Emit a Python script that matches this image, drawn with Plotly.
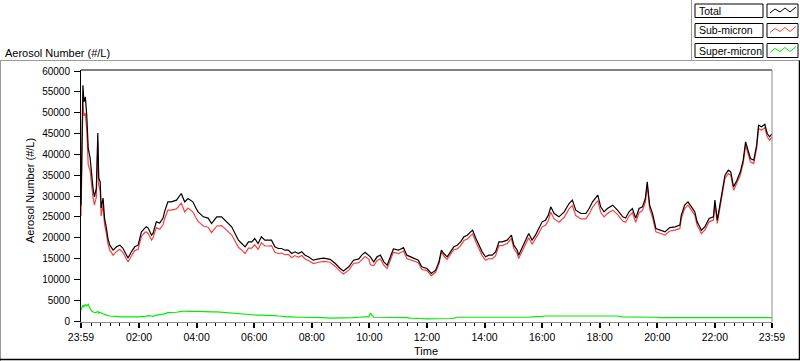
import plotly.graph_objects as go

# minutes since 23:59 (start of record)
t_min = [0, 2, 4, 6, 9, 12, 15, 19, 22, 25, 28, 32, 35, 37, 40, 42, 46, 49, 53, 56, 60, 67, 74, 81, 87, 94, 98, 105, 112, 119,
         126, 133, 136, 140, 147, 150, 157, 164, 171, 174, 181, 188, 199, 209, 216, 223, 233, 240, 244, 255, 265, 272, 283, 293,
         300, 307, 314, 321, 328, 335, 342, 349, 356, 362, 369, 376, 383, 390, 397, 404, 411, 418, 425, 432, 439, 446, 453, 460,
         467, 474, 484, 495, 506, 519, 530, 540, 547, 558, 568, 579, 585, 592, 600, 603, 610, 617, 624, 631, 638, 644, 651, 662,
         672, 679, 686, 693, 703, 710, 721, 730, 739, 746, 751, 756, 763, 770, 777, 784, 791, 798, 805, 812, 816, 823, 829, 836,
         843, 850, 857, 864, 871, 878, 888, 897, 902, 909, 912, 919, 926, 933, 940, 947, 954, 961, 968, 974, 979, 986, 996, 1007,
         1017, 1024, 1031, 1042, 1052, 1059, 1066, 1077, 1083, 1090, 1097, 1108, 1118, 1129, 1135, 1142, 1149, 1156, 1163, 1170,
         1176, 1180, 1185, 1191, 1198, 1208, 1217, 1227, 1238, 1248, 1251, 1258, 1265, 1272, 1279, 1284, 1293, 1300, 1309, 1318,
         1321, 1326, 1331, 1337, 1342, 1349, 1354, 1360, 1367, 1374, 1380, 1385, 1390, 1395, 1402, 1408, 1412, 1418, 1425, 1430,
         1435, 1440]

total = [27800, 45000, 56600, 52600, 53800, 49400, 41500, 39100, 35000, 31900, 29800, 31900, 45100, 34300, 33400, 27100, 29500,
         24700, 22300, 19900, 18200, 17000, 17800, 18200, 17500, 15800, 15100, 16600, 17800, 18200, 21400, 22300, 22600, 22300,
         20600, 21000, 23800, 23500, 24700, 26200, 28600, 28600, 29000, 30600, 28600, 29400, 28600, 27000, 26200, 25000, 24700,
         23400, 25000, 25000, 24200, 23400, 22600, 21000, 19400, 18600, 17800, 19000, 19000, 19800, 18600, 20200, 19400, 19400,
         19400, 17800, 17400, 17400, 17000, 17000, 16200, 16600, 16200, 16600, 15800, 15400, 14600, 14900, 15100, 14800, 13800,
         12600, 12000, 13000, 14600, 14900, 15800, 16500, 15800, 15400, 14200, 15400, 15800, 14200, 13400, 15000, 17300, 17000,
         17600, 15800, 15400, 15000, 14600, 13000, 12600, 11400, 12200, 14200, 17000, 16200, 15400, 16600, 17800, 18200, 19000,
         20200, 20600, 21400, 21800, 19800, 18200, 16600, 15400, 15800, 15800, 16600, 19000, 19000, 19400, 20600, 18200, 17000,
         15800, 17400, 19000, 21000, 19400, 20600, 22200, 23800, 24200, 25400, 27400, 25800, 25000, 26200, 28200, 29000, 26600,
         25800, 25800, 27000, 28600, 30200, 27400, 26200, 27000, 27800, 26600, 25000, 24700, 26200, 27000, 24700, 27000, 27400,
         29400, 33400, 27800, 25800, 22200, 21800, 21400, 22400, 22600, 23000, 25400, 27800, 28600, 27400, 26200, 23800, 21800,
         22600, 24600, 25000, 29000, 24200, 27400, 32200, 35000, 36200, 35800, 32200, 33800, 35800, 38600, 43000, 41000, 39000,
         38600, 42200, 47000, 46600, 47200, 45000, 44200, 44900]

sub_micron = [25200, 41800, 52800, 49200, 49900, 45800, 37500, 36100, 32600, 29700, 27800, 29800, 42800, 32400, 31300, 25200,
              27800, 23200, 20900, 18600, 17000, 15800, 16700, 17200, 16500, 14900, 14200, 15600, 16900, 17200, 20300, 21300,
              21400, 21000, 19400, 19900, 22400, 22000, 23100, 24500, 26600, 26600, 26900, 28300, 26200, 27100, 26200, 24700,
              23900, 22800, 22500, 21200, 22800, 22900, 22200, 21400, 20700, 19200, 17700, 17000, 16200, 17500, 17500, 18300,
              17200, 18800, 18000, 18000, 18100, 16500, 16200, 16300, 15900, 16000, 15200, 15700, 15300, 15700, 14900, 14500,
              13800, 14100, 14300, 14100, 13100, 11900, 11300, 12200, 13800, 14000, 14800, 15500, 14800, 13500, 13300, 14500,
              14900, 13400, 12600, 14200, 16500, 16200, 16800, 15000, 14700, 14300, 14000, 12400, 12100, 10900, 11700, 13700,
              16500, 15600, 14800, 16000, 17100, 17300, 18100, 19300, 19700, 20500, 20900, 18900, 17300, 15700, 14600, 15000,
              14900, 15700, 18100, 18100, 18600, 19800, 17400, 16200, 15000, 16600, 18100, 20000, 18400, 19600, 21100, 22600,
              23000, 24100, 26100, 24500, 23700, 24900, 26900, 27700, 25300, 24500, 24500, 25700, 27300, 28900, 26100, 25000,
              25800, 26600, 25600, 24000, 23700, 25200, 26000, 23700, 26000, 26500, 28500, 32500, 26900, 24900, 21400, 21000,
              20600, 21600, 21800, 22200, 24600, 27000, 27800, 26600, 25400, 23000, 21000, 21800, 23800, 24200, 28200, 23400,
              26600, 31400, 34200, 35400, 35000, 31400, 33000, 35000, 37800, 42200, 40200, 38200, 37800, 41400, 46200, 45800,
              46400, 44200, 43400, 44100]

super_micron = [2600, 3200, 3800, 3400, 3900, 3600, 4000, 3000, 2400, 2200, 2000, 2100, 2300, 1900, 2100, 1900, 1700, 1500, 1400,
                1300, 1200, 1200, 1100, 1000, 1000, 900, 900, 1000, 900, 1000, 1100, 1000, 1200, 1300, 1200, 1100, 1400, 1500,
                1600, 1700, 2000, 2000, 2100, 2300, 2400, 2300, 2400, 2300, 2300, 2200, 2200, 2200, 2200, 2100, 2000, 2000, 1900,
                1800, 1700, 1600, 1600, 1500, 1500, 1500, 1400, 1400, 1400, 1400, 1300, 1300, 1200, 1100, 1100, 1000, 1000, 900,
                900, 900, 900, 900, 800, 800, 800, 700, 700, 700, 700, 800, 800, 900, 1000, 1000, 1000, 1900, 900, 900, 900, 800,
                800, 800, 800, 800, 800, 800, 700, 700, 600, 600, 500, 500, 500, 500, 500, 600, 600, 600, 700, 900, 900, 900, 900,
                900, 900, 900, 900, 900, 900, 800, 800, 900, 900, 900, 900, 800, 800, 800, 800, 800, 800, 900, 1000, 1000, 1000,
                1100, 1200, 1200, 1300, 1300, 1300, 1300, 1300, 1300, 1300, 1300, 1300, 1300, 1300, 1300, 1300, 1300, 1200, 1200,
                1200, 1000, 1000, 1000, 1000, 1000, 1000, 1000, 900, 900, 900, 900, 900, 800, 800, 800, 800, 800, 800, 800, 800,
                800, 800, 800, 800, 800, 800, 800, 800, 800, 800, 800, 800, 800, 800, 800, 800, 800, 800, 800, 800, 800, 800, 800,
                800, 800, 800, 800, 800, 800, 800, 800]

tick_minutes = [0, 121, 241, 361, 481, 601, 721, 841, 961, 1081, 1201, 1321, 1440]
tick_labels = ["23:59", "02:00", "04:00", "06:00", "08:00", "10:00", "12:00", "14:00", "16:00", "18:00", "20:00", "22:00", "23:59"]
minor_tick_minutes = list(range(1, 1440, 20))
y_ticks = [0, 5000, 10000, 15000, 20000, 25000, 30000, 35000, 40000, 45000, 50000, 55000, 60000]
y_tick_labels = ["0", "5000", "10000", "15000", "20000", "25000", "30000", "35000", "40000", "45000", "50000", "55000", "60000"]
series_names = ["Total", "Sub-micron", "Super-micron"]
series_colors = ["#000000", "#FF3C3C", "#00EE00"]

W, H = 800, 361
L, R, T, B = 81, 772, 70, 322


def px(x):
    return (x - L) / (R - L)


def py(y):
    return (B - y) / (B - T)


FONT = "Liberation Sans"

fig = go.Figure()
fig.add_trace(go.Scatter(x=t_min, y=super_micron, mode="lines", line=dict(color=series_colors[2], width=1.2),
                         name=series_names[2], showlegend=False))
fig.add_trace(go.Scatter(x=t_min, y=sub_micron, mode="lines", line=dict(color=series_colors[1], width=1.2),
                         name=series_names[1], showlegend=False))
fig.add_trace(go.Scatter(x=t_min, y=total, mode="lines", line=dict(color=series_colors[0], width=1.2),
                         name=series_names[0], showlegend=False))

shapes = []
# plot frame: top (black), right (gray)
shapes.append(dict(type="line", xref="paper", yref="paper", x0=0, x1=1, y0=1, y1=1, line=dict(color="black", width=1)))
shapes.append(dict(type="line", xref="paper", yref="paper", x0=1, x1=1, y0=0, y1=1, line=dict(color="#8C8C8C", width=1)))
# outer panel (sunken border)
shapes.append(dict(type="line", xref="paper", yref="paper", x0=px(0), x1=px(800), y0=py(60.5), y1=py(60.5),
                   line=dict(color="#9A9A9A", width=1)))
shapes.append(dict(type="line", xref="paper", yref="paper", x0=px(0.5), x1=px(0.5), y0=py(60.5), y1=py(361),
                   line=dict(color="#9A9A9A", width=1)))
shapes.append(dict(type="line", xref="paper", yref="paper", x0=px(0), x1=px(800), y0=py(359.5), y1=py(359.5),
                   line=dict(color="black", width=1.5)))
shapes.append(dict(type="line", xref="paper", yref="paper", x0=px(799.5), x1=px(799.5), y0=py(60.5), y1=py(360),
                   line=dict(color="black", width=1.5)))
# legend area border
shapes.append(dict(type="line", xref="paper", yref="paper", x0=px(691.5), x1=px(691.5), y0=py(0), y1=py(60.5),
                   line=dict(color="#9A9A9A", width=1)))

annotations = []
box_rows = [(4, 17.5), (23.5, 37.5), (43.5, 57.5)]
zig = [(770, 13), (775, 9), (780, 12), (785, 8), (790, 12), (796, 7)]
for i, (y0, y1) in enumerate(box_rows):
    shapes.append(dict(type="rect", xref="paper", yref="paper", x0=px(695), x1=px(763), y0=py(y1), y1=py(y0),
                       line=dict(color="black", width=1), fillcolor="white"))
    shapes.append(dict(type="rect", xref="paper", yref="paper", x0=px(767), x1=px(798), y0=py(y1), y1=py(y0),
                       line=dict(color="black", width=1), fillcolor="white"))
    path = "M " + " L ".join(f"{px(x):.5f},{py(y + y0 - 4):.5f}" for x, y in zig)
    shapes.append(dict(type="path", xref="paper", yref="paper", path=path,
                       line=dict(color=series_colors[i], width=1)))
    annotations.append(dict(text=series_names[i], xref="paper", yref="paper", x=px(697), y=py((y0 + y1) / 2),
                            xanchor="left", yanchor="middle", showarrow=False,
                            font=dict(family=FONT, size=10.5, color="black")))

annotations.append(dict(text="Aerosol Number (#/L)", xref="paper", yref="paper", x=px(3), y=py(52.5),
                        xanchor="left", yanchor="middle", showarrow=False,
                        font=dict(family=FONT, size=11, color="black")))
annotations.append(dict(text="Aerosol Number (#/L)", xref="paper", yref="paper", x=px(30), y=py(191),
                        xanchor="center", yanchor="middle", showarrow=False, textangle=-90,
                        font=dict(family=FONT, size=11, color="black")))
annotations.append(dict(text="Time", xref="paper", yref="paper", x=px(426), y=py(351),
                        xanchor="center", yanchor="middle", showarrow=False,
                        font=dict(family=FONT, size=11, color="black")))

fig.update_layout(
    width=W, height=H,
    margin=dict(l=L, r=W - R, t=T, b=H - B, pad=0, autoexpand=False),
    paper_bgcolor="white", plot_bgcolor="white",
    showlegend=False,
    shapes=shapes, annotations=annotations,
    xaxis=dict(range=[0, 1440], tickmode="array", tickvals=tick_minutes, ticktext=tick_labels,
               ticks="outside", ticklen=5, tickwidth=2, tickcolor="black",
               minor=dict(tickmode="array", tickvals=minor_tick_minutes, ticks="outside", ticklen=3, tickwidth=1,
                          tickcolor="black"),
               showline=True, linecolor="#8C8C8C", linewidth=1, showgrid=False, zeroline=False,
               tickfont=dict(family=FONT, size=10.5, color="black")),
    yaxis=dict(range=[-240, 60240], tickmode="array", tickvals=y_ticks, ticktext=y_tick_labels,
               ticks="outside", ticklen=6, tickwidth=1, tickcolor="black", ticklabelstandoff=2,
               showline=True, linecolor="black", linewidth=1, showgrid=False, zeroline=False,
               tickfont=dict(family=FONT, size=10, color="black")),
)

fig.write_html("out.html", config={"displayModeBar": False},
               post_script="document.body.style.margin='0';document.body.style.padding='0';"
                           "document.body.style.overflow='hidden';")
